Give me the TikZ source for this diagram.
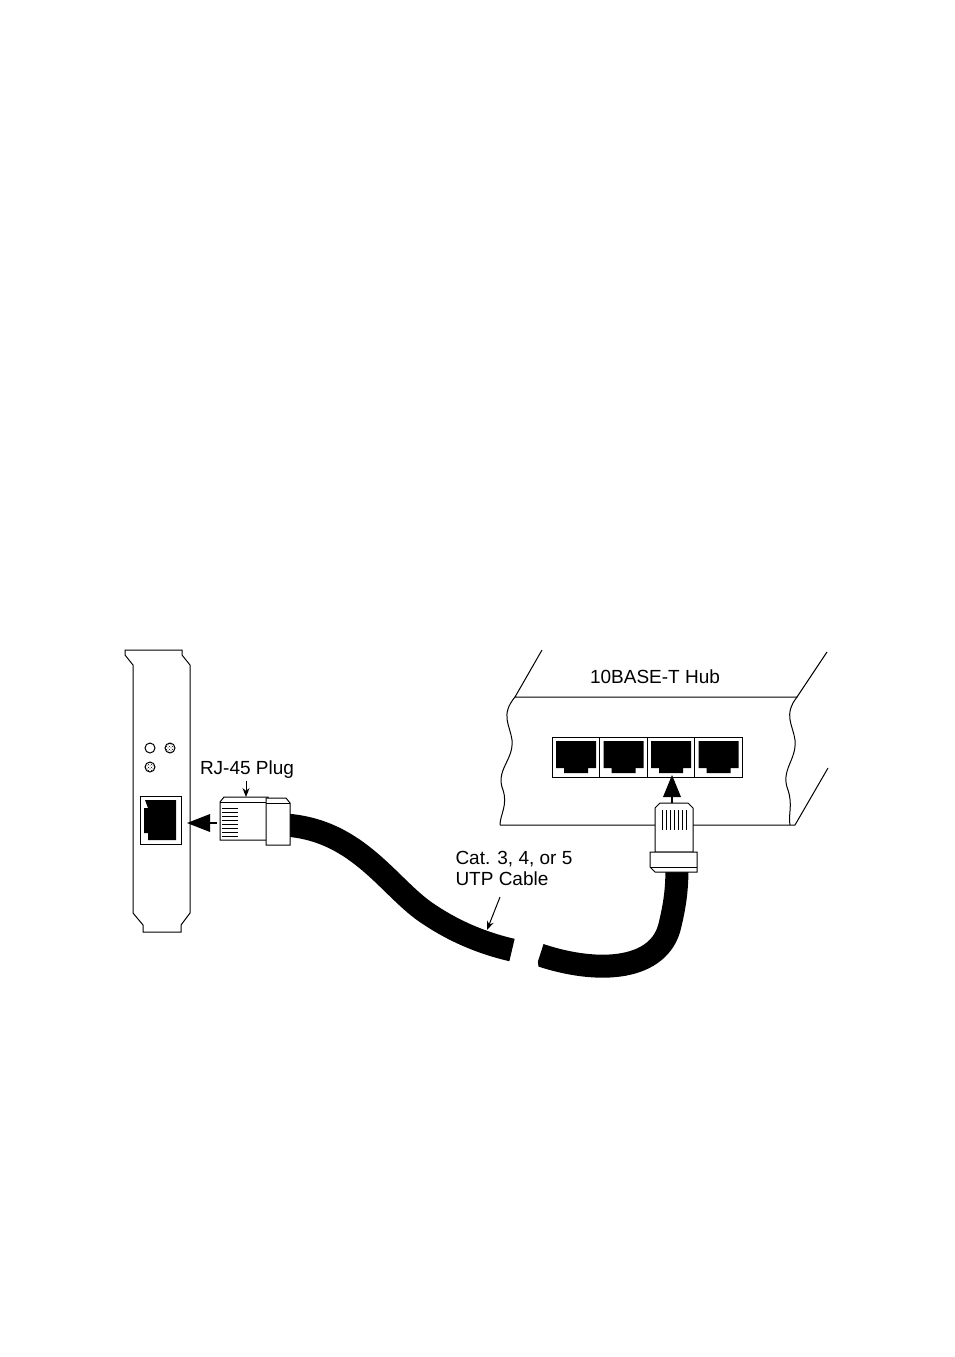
\documentclass[tikz,border=0pt]{standalone}
\usepackage{fontspec}
\setmainfont{Liberation Sans}
\usetikzlibrary{patterns,arrows.meta}
\begin{document}
\begin{tikzpicture}[x=1pt,y=-1pt,line width=1pt,
  lbl/.style={font=\fontsize{19}{21}\selectfont,inner sep=0pt},
  ptr/.style={-{Stealth[length=9pt,width=7pt]},line width=1pt},
  cable/.style={line width=23pt}]
\useasboundingbox (0,0) rectangle (954,1357);
% card bracket
\draw (125,650) -- (182,650) -- (182,655) -- (190,665) -- (190,913) -- (181,925) -- (181,932) -- (143,932) -- (143,925) -- (133,913) -- (133,665) -- (125,655) -- cycle;
\draw[fill=white] (150,748) circle (5);
\draw[pattern=crosshatch dots] (170,748) circle (5);
\draw[pattern=crosshatch dots] (150,767) circle (5);
\draw (140,796) rectangle (181,844);
\fill (145,800) -- (176,800) -- (176,840) -- (148,840) -- (148,833) -- (144,833) -- (144,808) -- (148,808) -- cycle;
\coordinate (cardjack) at (187,823);
% cable
\draw[cable] (285,825) .. controls (360,830) and (390,890) .. (430,915) .. controls (460,935) and (490,945) .. (512,950);
\draw[cable] (540,955) .. controls (600,975) and (660,970) .. (670,925) .. controls (676,900) and (677,885) .. (677,865);
\fill[white] (512,930) -- (520,950) -- (513,975) -- (540,975) -- (536,953) -- (542,930) -- cycle;
% card plug
\draw[fill=white] (220,802) -- (224,797) -- (268,797) -- (268,840) -- (220,840) -- cycle;
\draw (220,802) -- (268,802);
\draw[fill=white] (266,798) -- (286,798) -- (290,803) -- (290,845) -- (266,845) -- cycle;
\draw (266,803) -- (290,803);
\foreach \y in {808,812,...,836} \draw (222,\y) -- (238,\y);
\node[lbl] (rj) at (247,770) {RJ-45 Plug};
\coordinate (plugtop) at (246,797);
\draw[ptr] (246,781) -- (plugtop);
\draw[line width=2pt] (210,823) -- (217,823);
\fill (cardjack) -- ++(23,-9) -- ++(0,18) -- cycle;
% hub
\draw (542,650) -- (515,697) -- (797,697) -- (827,652);
\draw (515,697) .. controls (500,715) and (510,725) .. (512,740) .. controls (514,760) and (495,770) .. (503,790) .. controls (508,805) and (500,815) .. (500,825);
\draw (500,825) -- (795,825) -- (828,768);
\draw (797,697) .. controls (783,715) and (793,725) .. (795,740) .. controls (797,760) and (780,770) .. (788,790) .. controls (793,805) and (788,815) .. (790,825);
\node[lbl] (hub) at (655,677) {10BASE-T Hub};
\draw[fill=white] (552,737) rectangle (742,777);
\foreach \i in {0,1,2,3} {
  \draw (552+\i*47.5,737) rectangle (552+\i*47.5+47.5,777);
  \fill (556+\i*47.5,741) -- (596+\i*47.5,741) -- (596+\i*47.5,768) -- (588+\i*47.5,768) -- (588+\i*47.5,773) -- (564+\i*47.5,773) -- (564+\i*47.5,768) -- (556+\i*47.5,768) -- cycle;
}
\coordinate (hubport) at (672,775);
\draw[line width=2pt] (672,795) -- (672,803);
\fill (hubport) -- ++(-9,22) -- ++(18,0) -- cycle;
% hub plug
\draw[fill=white] (655,808) -- (660,803) -- (688,803) -- (693,808) -- (693,852) -- (655,852) -- cycle;
\foreach \x in {662,666,...,686} \draw (\x,810) -- (\x,830);
\draw[fill=white] (650,852) -- (697,852) -- (697,872) -- (655,872) -- (650,867) -- cycle;
\draw (650,867) -- (697,867);
% cable label
\node[lbl,align=left,anchor=north west] (cat) at (455,851) {Cat. 3, 4, or 5\\UTP Cable};
\coordinate (cabpt) at (487,930);
\draw[ptr] (500,897) -- (cabpt);
\end{tikzpicture}
\end{document}
